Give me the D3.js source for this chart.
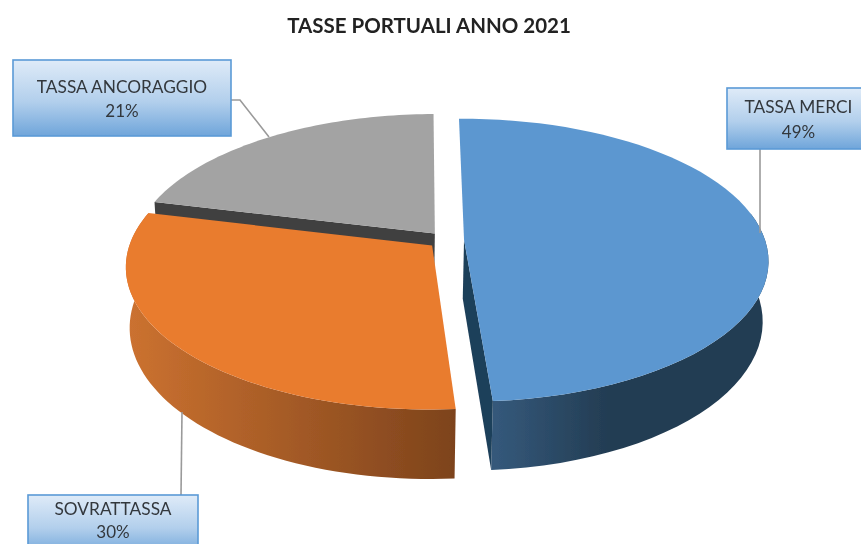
<!DOCTYPE html>
<html>
<head>
<meta charset="utf-8">
<script src="https://cdnjs.cloudflare.com/ajax/libs/d3/7.8.5/d3.min.js"></script>
<style>
  html, body { margin: 0; padding: 0; background: #fff; }
  svg { display: block; }
  text { font-family: Lato, "Open Sans", sans-serif; fill: #33373c; }
</style>
</head>
<body>
<div id="chart"></div>
<script>
const categories = ['TASSA MERCI', 'SOVRATTASSA', 'TASSA ANCORAGGIO'];
const shares = [49, 30, 21];
const topColors = ['#5b97d0', '#e97b2f', '#a3a3a3'];
const faceColors = ['#1f3f5a', '#7d431c', '#404040'];
const wallStops = [['#34587a', '#233c52'], ['#cc7230', '#7d431c'], ['#666', '#444']];
// which cut edge of each slice faces the viewer
const openCut = ['end', null, 'start'];

const config = {
  width: 861,
  height: 544,
  center: { x: 446, y: 240 },
  radius: { x: 301, y: 138.6 },
  perspective: 0.145,  // how much the near rim grows
  explode: 0.06,
  thickness: 59,
  shrink: 0.985,       // bottom rim is slightly narrower
  rotation: -0.6 * Math.PI / 180
};

// label boxes, same order as categories
const boxes = [
  { x: 727, y: 88, w: 143, h: 61, leader: [[760, 149], [760, 233]] },
  { x: 28, y: 495, w: 170, h: 60, leader: [[181, 495], [182, 412]] },
  { x: 13, y: 60, w: 218, h: 76, leader: [[231, 100], [240, 100], [269, 137]] }
];

let svg = d3.select('#chart')
  .append('svg')
  .attr('width', config.width)
  .attr('height', config.height);

let defs = svg.append('defs');

defs.append('filter')
  .attr('id', 'soft')
  .append('feGaussianBlur')
  .attr('stdDeviation', 0.55);

let boxGradient = defs.append('linearGradient')
  .attr('id', 'boxFill')
  .attr('x1', 0).attr('y1', 0).attr('x2', 0).attr('y2', 1);
boxGradient.append('stop').attr('offset', '0%').attr('stop-color', '#dfebf8');
boxGradient.append('stop').attr('offset', '55%').attr('stop-color', '#b2cfec');
boxGradient.append('stop').attr('offset', '100%').attr('stop-color', '#6fa5da');

let root = svg.append('g').attr('filter', 'url(#soft)');

let xscale = d3.scaleLinear()
  .domain([-1, 1])
  .range([config.center.x - config.radius.x, config.center.x + config.radius.x]);
let yscale = d3.scaleLinear()
  .domain([-1, 1])
  .range([config.center.y + config.radius.y, config.center.y - config.radius.y]);

// plane coordinates (u to the right, v to the back) to screen, height 0 = top face
function project(u, v, lowered) {
  let s = 1 / (1 + config.perspective * v);
  let x = xscale(u * s);
  let y = yscale(v * s);
  if (lowered) {
    x = config.center.x + (x - config.center.x) * config.shrink - 1;
    y += config.thickness * s;
  }
  return [x, y];
}

let pie = d3.pie()
  .sort(null)
  .startAngle(config.rotation)
  .endAngle(2 * Math.PI + config.rotation);
let slices = pie(shares);
let line = d3.line();

// one slice gives its rim, apex and offset in plane coordinates
function rimOf(d) {
  let mid = (d.startAngle + d.endAngle) / 2;
  let ou = Math.sin(mid) * config.explode;
  let ov = Math.cos(mid) * config.explode;
  let steps = d3.range(0, 61).map((i) => {
    let a = d.startAngle + (d.endAngle - d.startAngle) * i / 60;
    return [Math.sin(a) + ou, Math.cos(a) + ov];
  });
  return { rim: steps, apex: [ou, ov] };
}

function drawSlice(i) {
  let shape = rimOf(slices[i]);
  let rim = shape.rim;
  let apex = shape.apex;

  let topRim = rim.map((p) => project(p[0], p[1], false));
  // the back half of the rim is hidden, so the wall only runs along the front
  let front = rim.filter((p) => p[1] < 0.2);
  let wallTop = front.map((p) => project(p[0], p[1], false));
  let wallLow = front.map((p) => project(p[0], p[1], true));
  let xExtent = d3.extent(wallTop.concat(wallLow), (p) => p[0]);

  let gradient = defs.append('linearGradient')
    .attr('id', `wall${i}`)
    .attr('gradientUnits', 'userSpaceOnUse')
    .attr('x1', i === 0 ? 497 : xExtent[0])
    .attr('x2', i === 0 ? 610 : xExtent[1])
    .attr('y1', 0)
    .attr('y2', 0);
  gradient.append('stop').attr('offset', '0%').attr('stop-color', wallStops[i][0]);
  gradient.append('stop').attr('offset', '100%').attr('stop-color', wallStops[i][1]);

  let g = root.append('g').attr('class', 'slice');

  if (front.length) {
    g.append('path')
      .attr('d', line(wallTop.concat(wallLow.slice().reverse())) + 'Z')
      .style('fill', `url(#wall${i})`);
  }

  if (openCut[i]) {
    let edge = openCut[i] === 'start' ? rim[0] : rim[rim.length - 1];
    g.append('path')
      .attr('d', line([
        project(apex[0], apex[1], false),
        project(edge[0], edge[1], false),
        project(edge[0], edge[1], true),
        project(apex[0], apex[1], true)
      ]) + 'Z')
      .style('fill', faceColors[i]);
  }

  g.append('path')
    .attr('d', line([project(apex[0], apex[1], false)].concat(topRim)) + 'Z')
    .style('fill', topColors[i]);
}

// back to front
drawSlice(2);
drawSlice(1);
drawSlice(0);

// leaders
boxes.forEach((b) => {
  root.append('path')
    .attr('d', line(b.leader))
    .style('fill', 'none')
    .style('stroke', '#9a9a9a')
    .style('stroke-width', 1.6);
});

// label boxes
let labels = root.selectAll('.label')
  .data(categories)
  .enter()
  .append('g')
  .attr('class', 'label');

labels.append('rect')
  .attr('x', (d, i) => boxes[i].x)
  .attr('y', (d, i) => boxes[i].y)
  .attr('width', (d, i) => boxes[i].w)
  .attr('height', (d, i) => boxes[i].h)
  .style('fill', 'url(#boxFill)')
  .style('stroke', '#5a9ad6')
  .style('stroke-width', 1.6);

labels.append('text')
  .attr('x', (d, i) => boxes[i].x + boxes[i].w / 2)
  .attr('y', (d, i) => boxes[i].y + (i === 1 ? 20 : i === 0 ? 25 : 33))
  .attr('text-anchor', 'middle')
  .style('font-size', '17.3px')
  .text((d) => d);

labels.append('text')
  .attr('x', (d, i) => boxes[i].x + boxes[i].w / 2)
  .attr('y', (d, i) => boxes[i].y + (i === 1 ? 43 : i === 0 ? 50 : 57))
  .attr('text-anchor', 'middle')
  .style('font-size', '17px')
  .text((d, i) => `${shares[i]}%`);

root.append('text')
  .attr('x', 429)
  .attr('y', 33)
  .attr('text-anchor', 'middle')
  .style('font-size', '20.5px')
  .style('font-weight', 700)
  .style('fill', '#222')
  .text('TASSE PORTUALI ANNO 2021');
</script>
</body>
</html>
